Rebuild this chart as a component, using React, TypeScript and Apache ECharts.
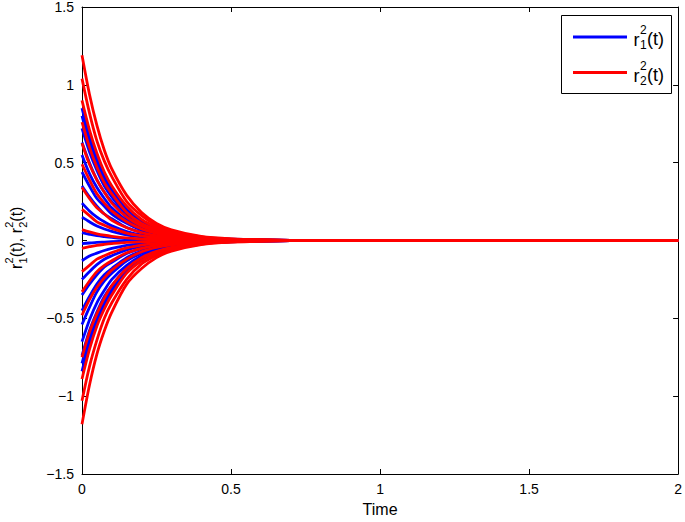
import React, { useEffect, useRef } from "react";
import * as echarts from "echarts";

const TIME = [0, 0.025, 0.05, 0.075, 0.1, 0.15, 0.2, 0.25, 0.3, 0.4, 0.5, 0.7, 2];

// r1^2(t) trajectories (blue)
const R1 = [
  [0.85, 0.67, 0.53, 0.42, 0.33, 0.2, 0.13, 0.079, 0.049, 0.019, 0.008, 0.001, 0],
  [0.8, 0.63, 0.5, 0.39, 0.31, 0.19, 0.12, 0.074, 0.046, 0.018, 0.007, 0.001, 0],
  [0.72, 0.57, 0.45, 0.35, 0.28, 0.17, 0.11, 0.067, 0.042, 0.016, 0.006, 0.001, 0],
  [0.63, 0.5, 0.39, 0.31, 0.25, 0.15, 0.095, 0.059, 0.037, 0.014, 0.006, 0.001, 0],
  [0.55, 0.43, 0.34, 0.27, 0.21, 0.13, 0.083, 0.051, 0.032, 0.012, 0.005, 0.001, 0],
  [0.44, 0.35, 0.27, 0.22, 0.17, 0.11, 0.066, 0.041, 0.026, 0.01, 0.004, 0, 0],
  [0.35, 0.28, 0.22, 0.17, 0.14, 0.084, 0.053, 0.033, 0.02, 0.008, 0.003, 0, 0],
  [0.24, 0.19, 0.15, 0.12, 0.094, 0.058, 0.036, 0.022, 0.014, 0.005, 0.002, 0, 0],
  [0.15, 0.12, 0.093, 0.074, 0.059, 0.036, 0.023, 0.014, 0.009, 0.003, 0.001, 0, 0],
  [0.05, 0.04, 0.031, 0.025, 0.02, 0.012, 0.008, 0.005, 0.003, 0.001, 0, 0, 0],
  [-0.02, -0.016, -0.012, -0.01, -0.008, -0.005, -0.003, -0.002, -0.001, 0, 0, 0, 0],
  [-0.13, -0.1, -0.081, -0.064, -0.051, -0.031, -0.02, -0.012, -0.008, -0.003, -0.001, 0, 0],
  [-0.25, -0.2, -0.155, -0.12, -0.098, -0.06, -0.038, -0.023, -0.015, -0.006, -0.002, 0, 0],
  [-0.35, -0.28, -0.22, -0.17, -0.14, -0.084, -0.053, -0.033, -0.02, -0.008, -0.003, 0, 0],
  [-0.45, -0.36, -0.28, -0.22, -0.18, -0.11, -0.068, -0.042, -0.026, -0.01, -0.004, 0, 0],
  [-0.54, -0.43, -0.33, -0.26, -0.21, -0.13, -0.081, -0.05, -0.031, -0.012, -0.005, -0.001, 0],
  [-0.65, -0.51, -0.4, -0.32, -0.25, -0.16, -0.098, -0.06, -0.038, -0.014, -0.006, -0.001, 0],
  [-0.74, -0.58, -0.46, -0.36, -0.29, -0.18, -0.11, -0.069, -0.043, -0.016, -0.007, -0.001, 0],
  [-0.79, -0.62, -0.49, -0.39, -0.31, -0.19, -0.12, -0.073, -0.046, -0.017, -0.007, -0.001, 0],
  [-0.84, -0.66, -0.52, -0.41, -0.33, -0.2, -0.13, -0.078, -0.049, -0.018, -0.008, -0.001, 0],
];

// r2^2(t) trajectories (red)
const R2 = [
  [1.19, 0.94, 0.74, 0.58, 0.46, 0.29, 0.18, 0.11, 0.069, 0.026, 0.011, 0.001, 0],
  [1.04, 0.82, 0.64, 0.51, 0.41, 0.25, 0.16, 0.097, 0.06, 0.023, 0.009, 0.001, 0],
  [0.9, 0.71, 0.56, 0.44, 0.35, 0.22, 0.135, 0.084, 0.052, 0.02, 0.008, 0.001, 0],
  [0.76, 0.6, 0.47, 0.37, 0.3, 0.18, 0.11, 0.071, 0.044, 0.017, 0.007, 0.001, 0],
  [0.625, 0.49, 0.39, 0.31, 0.24, 0.15, 0.094, 0.058, 0.036, 0.014, 0.006, 0.001, 0],
  [0.49, 0.39, 0.3, 0.24, 0.19, 0.12, 0.074, 0.046, 0.028, 0.011, 0.004, 0, 0],
  [0.34, 0.27, 0.21, 0.17, 0.13, 0.082, 0.051, 0.032, 0.02, 0.007, 0.003, 0, 0],
  [0.2, 0.16, 0.12, 0.098, 0.078, 0.048, 0.03, 0.019, 0.012, 0.004, 0.002, 0, 0],
  [0.07, 0.055, 0.043, 0.034, 0.027, 0.017, 0.011, 0.007, 0.004, 0.002, 0.001, 0, 0],
  [-0.05, -0.04, -0.031, -0.025, -0.02, -0.012, -0.008, -0.005, -0.003, -0.001, 0, 0, 0],
  [-0.2, -0.16, -0.12, -0.098, -0.078, -0.048, -0.03, -0.019, -0.012, -0.004, -0.002, 0, 0],
  [-0.33, -0.26, -0.2, -0.16, -0.13, -0.079, -0.05, -0.031, -0.019, -0.007, -0.003, 0, 0],
  [-0.48, -0.38, -0.3, -0.24, -0.19, -0.12, -0.072, -0.045, -0.028, -0.011, -0.004, 0, 0],
  [-0.75, -0.59, -0.47, -0.37, -0.29, -0.18, -0.11, -0.07, -0.044, -0.017, -0.007, -0.001, 0],
  [-0.89, -0.7, -0.55, -0.44, -0.35, -0.21, -0.13, -0.083, -0.052, -0.02, -0.008, -0.001, 0],
  [-1.03, -0.81, -0.64, -0.5, -0.4, -0.25, -0.15, -0.096, -0.06, -0.023, -0.009, -0.001, 0],
  [-1.18, -0.93, -0.73, -0.58, -0.46, -0.28, -0.18, -0.11, -0.068, -0.026, -0.011, -0.001, 0],
];

const X_MIN = 0, X_MAX = 2, X_STEP = 0.5;
const Y_MIN = -1.5, Y_MAX = 1.5, Y_STEP = 0.5;
const X_NAME = "Time";

const FONT = '"Liberation Sans", Arial, Helvetica, sans-serif';
const BLUE = "#0000ff";
const RED = "#ff0000";

function makeSeries(rows: number[][], name: string, color: string) {
  return rows.map((vals) => ({
    type: "line",
    name,
    data: vals.map((v, i) => [TIME[i], v]),
    showSymbol: false,
    symbol: "none",
    smooth: 0.3,
    silent: true,
    lineStyle: { color, width: 2.8 },
    itemStyle: { color },
    xAxisIndex: 0,
    yAxisIndex: 0,
    z: 2,
  }));
}

function label(parts: { t: string; x: number; y: number; size: number }[], z = 0) {
  return parts.map((p) => ({
    type: "text",
    x: p.x,
    y: p.y,
    z,
    silent: true,
    style: {
      text: p.t,
      font: `${p.size}px ${FONT}`,
      fill: "#000",
      textAlign: "left",
      textVerticalAlign: "middle",
    },
  }));
}

const fmt = (v: number) => String(v).replace("-", "\u2212");

export default function App() {
  const ref = useRef<HTMLDivElement>(null);
  useEffect(() => {
    if (!ref.current) return;
    const chart = echarts.init(ref.current, undefined, { renderer: "svg" });
    const axisCommon = {
      type: "value",
      axisLine: { show: true, onZero: false, lineStyle: { color: "#000", width: 1 } },
      axisTick: { show: true, inside: true, length: 5, lineStyle: { color: "#000", width: 1 } },
      splitLine: { show: false },
    };
    const labelStyle = { color: "#000", fontSize: 14, fontFamily: FONT };
    const legendRow = (y: number, color: string, sub: string) => [
      { type: "line", z: 101, silent: true, shape: { x1: 573, y1: y, x2: 627, y2: y }, style: { stroke: color, lineWidth: 2.8 } },
      ...label(
        [
          { t: "r", x: 633.5, y: y + 3, size: 18 },
          { t: "2", x: 640, y: y - 7, size: 12 },
          { t: sub, x: 640, y: y + 8, size: 12 },
          { t: "(t)", x: 647, y: y + 2, size: 18 },
        ],
        101
      ),
    ];
    const yl = (sub: string, x0: number) => [
      { t: "r", x: x0, y: 0, size: 16 },
      { t: "2", x: x0 + 5.5, y: -7, size: 11 },
      { t: sub, x: x0 + 5.5, y: 7, size: 11 },
    ];
    chart.setOption({
      animation: false,
      backgroundColor: "#fff",
      grid: { left: 82, right: 3, top: 6, bottom: 44, containLabel: false },
      xAxis: [
        {
          ...axisCommon,
          position: "bottom",
          min: X_MIN,
          max: X_MAX,
          interval: X_STEP,
          axisLabel: { ...labelStyle, margin: 8, showMinLabel: true, showMaxLabel: true, formatter: fmt },
          name: X_NAME,
          nameLocation: "middle",
          nameGap: 27,
          nameTextStyle: { ...labelStyle, fontSize: 16, verticalAlign: "top" },
        },
        {
          ...axisCommon,
          position: "top",
          min: X_MIN,
          max: X_MAX,
          interval: X_STEP,
          axisLabel: { show: false },
        },
      ],
      yAxis: [
        {
          ...axisCommon,
          position: "left",
          min: Y_MIN,
          max: Y_MAX,
          interval: Y_STEP,
          axisLabel: { ...labelStyle, margin: 8, formatter: fmt },
        },
        {
          ...axisCommon,
          position: "right",
          min: Y_MIN,
          max: Y_MAX,
          interval: Y_STEP,
          axisLabel: { show: false },
        },
      ],
      series: [...makeSeries(R1, "r1", BLUE), ...makeSeries(R2, "r2", RED)],
      graphic: [
        {
          type: "rect",
          silent: true,
          shape: { x: 561.5, y: 15.5, width: 110, height: 78 },
          style: { fill: "#fff", stroke: "#000", lineWidth: 1 },
          z: 100,
        },
        ...legendRow(37, BLUE, "1"),
        ...legendRow(72.5, RED, "2"),
        {
          type: "group",
          x: 16,
          y: 236.5,
          rotation: Math.PI / 2,
          children: label([
            ...yl("1", -32.5),
            { t: "(t), ", x: -20.8, y: 0, size: 16 },
            ...yl("2", 3.2),
            { t: "(t)", x: 14.8, y: 0, size: 16 },
          ]),
        },
      ],
    });
    return () => chart.dispose();
  }, []);
  return (
    <div
      ref={ref}
      style={{ position: "fixed", left: 0, top: 0, width: 685, height: 522 }}
    />
  );
}
